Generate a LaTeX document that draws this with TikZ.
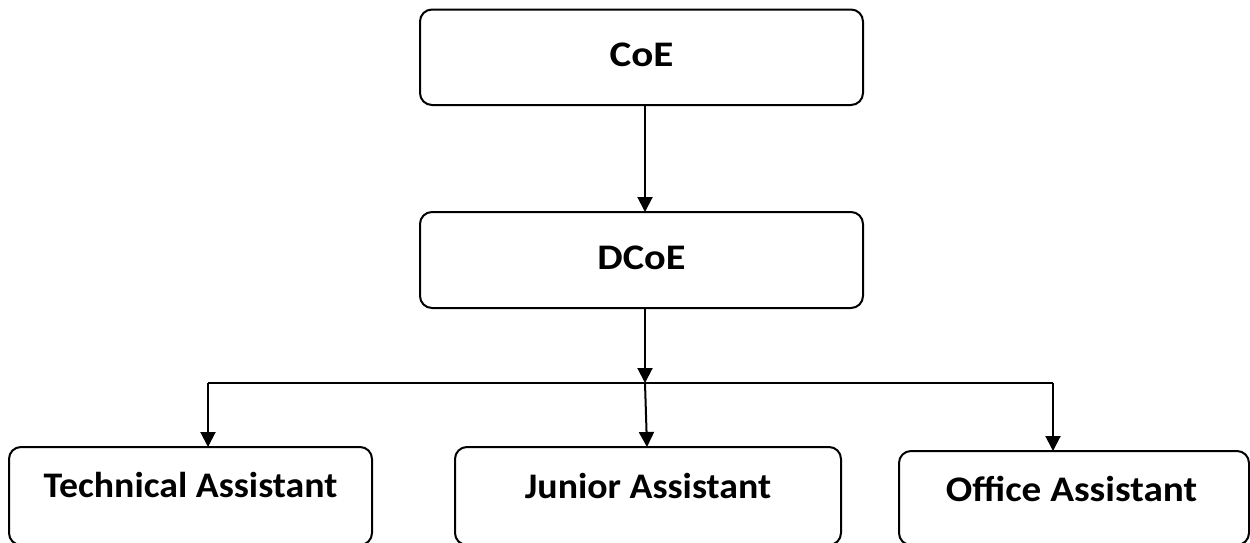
\documentclass[tikz,border=0pt]{standalone}
\usepackage{fontspec}
\setmainfont{Carlito}
\usetikzlibrary{arrows.meta}
\begin{document}
\begin{tikzpicture}[x=1pt,y=-1pt,
  boxnode/.style={draw=black, line width=2pt, rounded corners=12pt, inner sep=0pt, outer sep=0pt, fill=white},
  lbl/.style={font=\fontsize{36}{40}\selectfont\bfseries, inner sep=0pt, anchor=base},
  arr/.style={line width=2pt, -{Triangle[width=15pt,length=15pt]}},
  conn/.style={line width=2pt}]
\useasboundingbox (0,0) rectangle (1250,542);
\clip (0,0) rectangle (1250,542);
\fill[white] (0,0) rectangle (1250,542);
% boxes
\node[boxnode, minimum width=443pt, minimum height=95.5pt] (coe) at (641.5,57.25) {};
\node[boxnode, minimum width=443pt, minimum height=96pt] (dcoe) at (641.5,260) {};
\node[boxnode, minimum width=363pt, minimum height=98pt] (tech) at (190.5,496) {};
\node[boxnode, minimum width=386pt, minimum height=98pt] (junior) at (648,496) {};
\node[boxnode, minimum width=350pt, minimum height=94pt] (office) at (1074,498) {};
% labels
\node[lbl] (coet) at ([yshift=-56.5pt]coe.north) {\scalebox{1.14}[1]{CoE}};
\node[lbl] (dcoet) at ([yshift=-57pt]dcoe.north) {\scalebox{1.12}[1]{DCoE}};
\node[lbl] (techt) at ([yshift=-50pt]tech.north) {\scalebox{1.05}[1]{Technical Assistant}};
\node[lbl] (juniort) at ([yshift=-51pt]junior.north) {\scalebox{1.05}[1]{Junior Assistant}};
\node[lbl] (officet) at ([xshift=-2.5pt,yshift=-50pt]office.north) {\scalebox{1.09}[1]{Office Assistant}};
% connectors
\coordinate (busL) at (208,383);
\coordinate (busM) at (645,383);
\coordinate (busR) at (1053,383);
\draw[arr] ([xshift=3.5pt]coe.south) -- ([xshift=3.5pt]dcoe.north);
\draw[arr] ([xshift=3.5pt]dcoe.south) -- (busM);
\draw[conn] (busL) -- (busR);
\draw[arr] (busL) -- (busL |- tech.north);
\draw[arr] (busM) -- ([xshift=-1pt]junior.north);
\draw[arr] (busR) -- (busR |- office.north);
\end{tikzpicture}
\end{document}
